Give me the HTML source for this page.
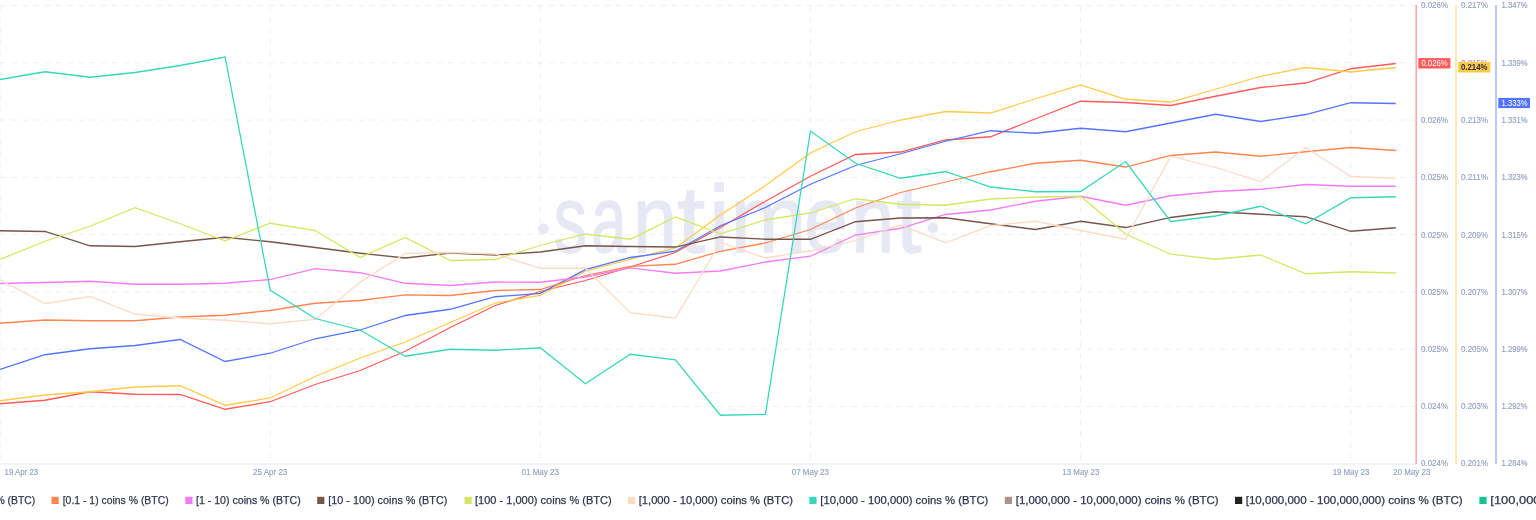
<!DOCTYPE html>
<html><head><meta charset="utf-8"><title>chart</title>
<style>
html,body{margin:0;padding:0;background:#fff;}
body{width:1536px;height:520px;overflow:hidden;font-family:"Liberation Sans",sans-serif;}
svg{display:block;}
text{font-family:"Liberation Sans",sans-serif;}
</style></head><body>
<svg width="1536" height="520" viewBox="0 0 1536 520">
<rect width="1536" height="520" fill="#fff"/>
<defs><mask id="mm" maskUnits="userSpaceOnUse" x="0" y="0" width="1536" height="520"><rect width="1536" height="520" fill="#fff"/></mask></defs>

<g stroke="#eceff9" stroke-width="1" stroke-dasharray="5.6 5.6" fill="none">
<path d="M0 5.50 H1416"/>
<path d="M0 62.78 H1416"/>
<path d="M0 120.06 H1416"/>
<path d="M0 177.34 H1416"/>
<path d="M0 234.62 H1416"/>
<path d="M0 291.90 H1416"/>
<path d="M0 349.18 H1416"/>
<path d="M0 406.46 H1416"/>
<path d="M0.10 5.5 V463"/>
<path d="M270.22 5.5 V463"/>
<path d="M540.34 5.5 V463"/>
<path d="M810.46 5.5 V463"/>
<path d="M1080.58 5.5 V463"/>
<path d="M1350.70 5.5 V463"/>
</g>
<path d="M0 463.95 H1416" stroke="#f1f3fa" stroke-width="2" fill="none"/>
<circle cx="543.4" cy="228.8" r="5.4" fill="#e6e9f4"/>
<circle cx="932.8" cy="227.6" r="5.4" fill="#e6e9f4"/>
<g font-size="94" fill="#e6e9f4" stroke="#e6e9f4" stroke-width="1.4">
<text transform="translate(553.64,251.9) scale(0.7047,1)">s</text>
<text transform="translate(591.31,251.9) scale(0.6751,1)">a</text>
<text transform="translate(633.08,251.9) scale(0.8387,1)">n</text>
<text transform="translate(677.24,251.9) scale(1.0642,1)">t</text>
<text transform="translate(709.11,251.9) scale(0.9814,1)">i</text>
<text transform="translate(730.46,251.9) scale(0.9702,1)">m</text>
<text transform="translate(804.29,251.9) scale(0.8354,1)">e</text>
<text transform="translate(851.52,251.9) scale(0.8144,1)">n</text>
<text transform="translate(896.32,251.9) scale(0.9578,1)">t</text>
</g>
<g fill="none" stroke-width="1.28" stroke-linejoin="miter" stroke-linecap="butt">
<path d="M0.00 403.75 L45.02 400.25 L90.05 391.75 L135.07 394.25 L180.10 394.50 L225.12 409.25 L270.15 401.75 L315.18 384.50 L360.20 370.50 L405.22 351.25 L450.25 327.50 L495.27 305.50 L540.30 291.50 L585.32 280.50 L630.35 267.00 L675.38 252.50 L720.40 227.50 L765.42 201.25 L810.45 176.25 L855.48 154.50 L900.50 152.00 L945.52 140.00 L990.55 136.75 L1035.58 118.75 L1080.60 101.25 L1125.62 102.50 L1170.65 105.50 L1215.67 96.25 L1260.70 87.50 L1305.72 83.00 L1350.75 68.75 L1395.77 63.50" stroke="#ff5b5b"/>
<path d="M0.00 400.75 L45.02 395.00 L90.05 391.75 L135.07 387.00 L180.10 385.75 L225.12 405.25 L270.15 398.00 L315.18 376.50 L360.20 358.00 L405.22 342.00 L450.25 322.50 L495.27 303.00 L540.30 295.50 L585.32 271.25 L630.35 259.10 L675.38 248.00 L720.40 215.00 L765.42 185.50 L810.45 153.00 L855.48 131.75 L900.50 120.00 L945.52 111.50 L990.55 113.00 L1035.58 98.75 L1080.60 85.00 L1125.62 99.25 L1170.65 102.00 L1215.67 89.25 L1260.70 76.25 L1305.72 67.50 L1350.75 72.00 L1395.77 67.50" stroke="#ffcb47"/>
<path d="M0.00 369.50 L45.02 354.75 L90.05 348.75 L135.07 345.50 L180.10 339.50 L225.12 361.50 L270.15 353.25 L315.18 338.75 L360.20 330.00 L405.22 315.50 L450.25 309.25 L495.27 296.75 L540.30 293.40 L585.32 269.60 L630.35 257.50 L675.38 251.25 L720.40 225.75 L765.42 207.50 L810.45 184.25 L855.48 165.50 L900.50 153.75 L945.52 141.25 L990.55 130.75 L1035.58 133.25 L1080.60 128.25 L1125.62 131.75 L1170.65 123.00 L1215.67 114.25 L1260.70 121.50 L1305.72 114.50 L1350.75 102.75 L1395.77 103.50" stroke="#5275ff"/>
<path d="M0.00 323.25 L45.02 320.00 L90.05 320.75 L135.07 320.75 L180.10 317.00 L225.12 315.25 L270.15 310.50 L315.18 303.25 L360.20 300.50 L405.22 294.80 L450.25 295.50 L495.27 290.50 L540.30 289.50 L585.32 275.50 L630.35 266.40 L675.38 264.25 L720.40 251.30 L765.42 243.00 L810.45 229.50 L855.48 208.00 L900.50 192.50 L945.52 182.00 L990.55 171.75 L1035.58 163.25 L1080.60 160.25 L1125.62 167.00 L1170.65 155.50 L1215.67 152.00 L1260.70 156.25 L1305.72 151.75 L1350.75 147.50 L1395.77 150.50" stroke="#ff8450"/>
<path d="M0.00 283.50 L45.02 282.50 L90.05 281.25 L135.07 284.25 L180.10 284.25 L225.12 283.25 L270.15 279.50 L315.18 268.60 L360.20 272.75 L405.22 283.25 L450.25 285.50 L495.27 282.00 L540.30 282.25 L585.32 277.00 L630.35 267.80 L675.38 273.25 L720.40 271.00 L765.42 262.00 L810.45 256.25 L855.48 235.00 L900.50 228.25 L945.52 214.50 L990.55 210.00 L1035.58 201.25 L1080.60 196.25 L1125.62 205.25 L1170.65 195.75 L1215.67 191.50 L1260.70 189.25 L1305.72 184.50 L1350.75 186.25 L1395.77 186.25" stroke="#f47bf7"/>
<path d="M0.00 230.75 L45.02 231.50 L90.05 245.75 L135.07 246.50 L180.10 241.75 L225.12 237.25 L270.15 241.75 L315.18 247.50 L360.20 253.25 L405.22 258.00 L450.25 253.00 L495.27 255.00 L540.30 252.00 L585.32 245.75 L630.35 246.50 L675.38 247.00 L720.40 237.00 L765.42 239.25 L810.45 239.25 L855.48 221.75 L900.50 218.00 L945.52 217.75 L990.55 223.75 L1035.58 229.50 L1080.60 221.25 L1125.62 227.50 L1170.65 217.50 L1215.67 211.75 L1260.70 214.25 L1305.72 216.75 L1350.75 231.25 L1395.77 227.75" stroke="#785549"/>
<path d="M0.00 259.50 L45.02 241.25 L90.05 226.25 L135.07 207.75 L180.10 223.75 L225.12 240.75 L270.15 223.25 L315.18 230.50 L360.20 257.50 L405.22 237.50 L450.25 260.50 L495.27 259.50 L540.30 245.50 L585.32 234.00 L630.35 239.25 L675.38 217.00 L720.40 233.75 L765.42 220.00 L810.45 213.00 L855.48 198.75 L900.50 204.25 L945.52 205.25 L990.55 199.00 L1035.58 197.00 L1080.60 196.25 L1125.62 234.00 L1170.65 254.25 L1215.67 259.25 L1260.70 255.00 L1305.72 273.75 L1350.75 271.75 L1395.77 273.00" stroke="#d4e763"/>
<path d="M0.00 280.00 L45.02 303.50 L90.05 296.50 L135.07 314.00 L180.10 318.00 L225.12 320.25 L270.15 323.75 L315.18 319.50 L360.20 282.10 L405.22 253.50 L450.25 252.50 L495.27 254.00 L540.30 268.25 L585.32 268.25 L630.35 313.00 L675.38 318.00 L720.40 242.50 L765.42 258.00 L810.45 250.75 L855.48 240.50 L900.50 225.00 L945.52 242.75 L990.55 225.75 L1035.58 221.25 L1080.60 230.50 L1125.62 239.25 L1170.65 156.20 L1215.67 167.50 L1260.70 181.50 L1305.72 147.50 L1350.75 176.50 L1395.77 178.25" stroke="#ffdac5"/>
<path d="M0.00 79.50 L45.02 71.75 L90.05 77.25 L135.07 72.50 L180.10 65.50 L225.12 57.00 L270.15 290.00 L315.18 318.50 L360.20 330.00 L405.22 356.25 L450.25 349.25 L495.27 350.25 L540.30 347.75 L585.32 383.75 L630.35 354.25 L675.38 359.75 L720.40 415.25 L765.42 414.25 L810.45 131.00 L855.48 163.25 L900.50 178.25 L945.52 171.50 L990.55 187.00 L1035.58 191.75 L1080.60 191.50 L1125.62 161.50 L1170.65 221.50 L1215.67 216.00 L1260.70 206.25 L1305.72 223.75 L1350.75 197.75 L1395.77 196.75" stroke="#37d7ba"/>
</g>
<path d="M1416.2 5 V464" stroke="#ffa3a3" stroke-width="1.5"/>
<path d="M1456 5 V464" stroke="#ffe29a" stroke-width="1.5"/>
<path d="M1496 5 V464" stroke="#a3b4ff" stroke-width="1.5"/>
<g font-size="8.4" fill="#95a0bf" stroke="#95a0bf" stroke-width="0.15" mask="url(#mm)">
<text x="1421" y="8.40" textLength="27" lengthAdjust="spacingAndGlyphs">0.026%</text>
<text x="1461" y="8.40" textLength="27" lengthAdjust="spacingAndGlyphs">0.217%</text>
<text x="1501.5" y="8.40" textLength="26" lengthAdjust="spacingAndGlyphs">1.347%</text>
<text x="1421" y="65.68" textLength="27" lengthAdjust="spacingAndGlyphs">0.026%</text>
<text x="1461" y="65.68" textLength="27" lengthAdjust="spacingAndGlyphs">0.215%</text>
<text x="1501.5" y="65.68" textLength="26" lengthAdjust="spacingAndGlyphs">1.339%</text>
<text x="1421" y="122.96" textLength="27" lengthAdjust="spacingAndGlyphs">0.026%</text>
<text x="1461" y="122.96" textLength="27" lengthAdjust="spacingAndGlyphs">0.213%</text>
<text x="1501.5" y="122.96" textLength="26" lengthAdjust="spacingAndGlyphs">1.331%</text>
<text x="1421" y="180.24" textLength="27" lengthAdjust="spacingAndGlyphs">0.025%</text>
<text x="1461" y="180.24" textLength="27" lengthAdjust="spacingAndGlyphs">0.211%</text>
<text x="1501.5" y="180.24" textLength="26" lengthAdjust="spacingAndGlyphs">1.323%</text>
<text x="1421" y="237.52" textLength="27" lengthAdjust="spacingAndGlyphs">0.025%</text>
<text x="1461" y="237.52" textLength="27" lengthAdjust="spacingAndGlyphs">0.209%</text>
<text x="1501.5" y="237.52" textLength="26" lengthAdjust="spacingAndGlyphs">1.315%</text>
<text x="1421" y="294.80" textLength="27" lengthAdjust="spacingAndGlyphs">0.025%</text>
<text x="1461" y="294.80" textLength="27" lengthAdjust="spacingAndGlyphs">0.207%</text>
<text x="1501.5" y="294.80" textLength="26" lengthAdjust="spacingAndGlyphs">1.307%</text>
<text x="1421" y="352.08" textLength="27" lengthAdjust="spacingAndGlyphs">0.025%</text>
<text x="1461" y="352.08" textLength="27" lengthAdjust="spacingAndGlyphs">0.205%</text>
<text x="1501.5" y="352.08" textLength="26" lengthAdjust="spacingAndGlyphs">1.299%</text>
<text x="1421" y="409.36" textLength="27" lengthAdjust="spacingAndGlyphs">0.024%</text>
<text x="1461" y="409.36" textLength="27" lengthAdjust="spacingAndGlyphs">0.203%</text>
<text x="1501.5" y="409.36" textLength="26" lengthAdjust="spacingAndGlyphs">1.292%</text>
<text x="1421" y="466.20" textLength="27" lengthAdjust="spacingAndGlyphs">0.024%</text>
<text x="1461" y="466.20" textLength="27" lengthAdjust="spacingAndGlyphs">0.201%</text>
<text x="1501.5" y="466.20" textLength="26" lengthAdjust="spacingAndGlyphs">1.284%</text>
</g>
<g mask="url(#mm)">
<rect x="1418.3" y="58.1" width="32.1" height="10.4" fill="#ff5b5b"/>
<text x="1421.4" y="66.4" font-size="8.6" fill="#fff" textLength="26.2" lengthAdjust="spacingAndGlyphs">0.026%</text>
<rect x="1458.2" y="61.9" width="32.2" height="10.6" fill="#ffcb47"/>
<text x="1461" y="70.1" font-size="8.7" font-weight="bold" fill="#262b40" textLength="26.5" lengthAdjust="spacingAndGlyphs">0.214%</text>
<rect x="1498.3" y="97.9" width="31.7" height="10.2" fill="#5275ff"/>
<text x="1501.5" y="106.4" font-size="8.6" fill="#fff" textLength="26" lengthAdjust="spacingAndGlyphs">1.333%</text>
</g>
<g font-size="8.4" fill="#95a0bf" stroke="#95a0bf" stroke-width="0.15" mask="url(#mm)">
<text x="4.6" y="474.55" textLength="33.5" lengthAdjust="spacingAndGlyphs">19 Apr 23</text>
<text x="253.0" y="474.55" textLength="34.3" lengthAdjust="spacingAndGlyphs">25 Apr 23</text>
<text x="521.5" y="474.55" textLength="37.5" lengthAdjust="spacingAndGlyphs">01 May 23</text>
<text x="791.7" y="474.55" textLength="37.3" lengthAdjust="spacingAndGlyphs">07 May 23</text>
<text x="1062.3" y="474.55" textLength="37.0" lengthAdjust="spacingAndGlyphs">13 May 23</text>
<text x="1332.7" y="474.55" textLength="36.6" lengthAdjust="spacingAndGlyphs">19 May 23</text>
<text x="1393.3" y="474.55" textLength="37.0" lengthAdjust="spacingAndGlyphs">20 May 23</text>
</g>
<g font-size="11.7" fill="#2f354d" stroke="#2f354d" stroke-width="0.25" mask="url(#mm)">
<text x="-4.6" y="504" textLength="39.9" lengthAdjust="spacingAndGlyphs">% (BTC)</text>
<rect x="51.5" y="496.8" width="7.2" height="7.2" fill="#ff8450" stroke="none"/>
<text x="62.7" y="504" textLength="106.0" lengthAdjust="spacingAndGlyphs">[0.1 - 1) coins % (BTC)</text>
<rect x="185.3" y="496.8" width="7.2" height="7.2" fill="#f47bf7" stroke="none"/>
<text x="196.0" y="504" textLength="104.7" lengthAdjust="spacingAndGlyphs">[1 - 10) coins % (BTC)</text>
<rect x="317.2" y="496.8" width="7.2" height="7.2" fill="#785549" stroke="none"/>
<text x="328.3" y="504" textLength="119.0" lengthAdjust="spacingAndGlyphs">[10 - 100) coins % (BTC)</text>
<rect x="464.5" y="496.8" width="7.2" height="7.2" fill="#d4e763" stroke="none"/>
<text x="475.0" y="504" textLength="136.7" lengthAdjust="spacingAndGlyphs">[100 - 1,000) coins % (BTC)</text>
<rect x="628.0" y="496.8" width="7.2" height="7.2" fill="#ffdac5" stroke="none"/>
<text x="638.7" y="504" textLength="154.3" lengthAdjust="spacingAndGlyphs">[1,000 - 10,000) coins % (BTC)</text>
<rect x="809.3" y="496.8" width="7.2" height="7.2" fill="#37d7ba" stroke="none"/>
<text x="820.3" y="504" textLength="168.0" lengthAdjust="spacingAndGlyphs">[10,000 - 100,000) coins % (BTC)</text>
<rect x="1004.8" y="496.8" width="7.2" height="7.2" fill="#ac948c" stroke="none"/>
<text x="1015.7" y="504" textLength="203.0" lengthAdjust="spacingAndGlyphs">[1,000,000 - 10,000,000) coins % (BTC)</text>
<rect x="1235.0" y="496.8" width="7.2" height="7.2" fill="#222222" stroke="none"/>
<text x="1245.7" y="504" textLength="217.0" lengthAdjust="spacingAndGlyphs">[10,000,000 - 100,000,000) coins % (BTC)</text>
<rect x="1479.4" y="496.8" width="7.2" height="7.2" fill="#14c393" stroke="none"/>
<text x="1490.3" y="504" textLength="210.0" lengthAdjust="spacingAndGlyphs">[100,000 - 1,000,000) coins % (BTC)</text>
</g>
</svg></body></html>
